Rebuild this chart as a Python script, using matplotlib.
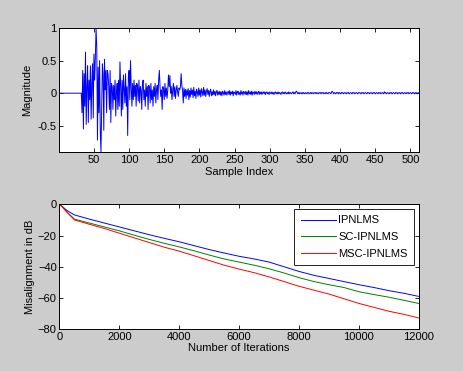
import numpy as np
import matplotlib.pyplot as plt

plt.rcParams['font.family'] = ['Liberation Sans', 'DejaVu Sans']
plt.rcParams['font.size'] = 8

# respuesta al impulso (muestras 1..512)
h_zeros = [0.0] * 32
h_early = [
    -0.30, 0.35, -0.55, 0.30, -0.20, 0.63, -0.48, 0.10, 0.42, -0.45,
    0.20, -0.10, 0.42, -0.40, 0.15, 0.45, -0.38, 0.60, 0.20, 0.55,
    1.00, 0.70, -0.72, 0.40, -0.30, 0.50, -0.60, -0.90, -0.20, 0.45,
    0.30, -0.57, 0.52, 0.05, 0.35, -0.30, 0.35, 0.30,
    0.10, -0.25, 0.35, -0.45, 0.15, 0.10, -0.25, 0.12, -0.10, 0.20,
    -0.35, 0.00, 0.15, -0.25, 0.20, -0.20, 0.48, 0.10, -0.35, 0.20,
    -0.25, 0.28, 0.05, -0.15, 0.30, -0.20, 0.10, -0.65, 0.25, 0.35,
    -0.10, 0.50, 0.10, -0.20, 0.15, -0.10, 0.20, -0.05, 0.12, -0.20,
]
h_mid = [
    0.15, 0.08, -0.12, 0.20, -0.15, 0.10, 0.05, -0.25, 0.15, 0.20,
    -0.10, 0.05, -0.20, 0.15, -0.05, 0.10, -0.25, 0.12, 0.08, -0.15,
    0.15, -0.10, 0.05, -0.20, 0.10, -0.05, 0.15, -0.15, 0.05, 0.12,
    -0.10, 0.20, 0.35, 0.10, -0.05, 0.05, -0.25, 0.10, 0.05, -0.10,
    0.15, -0.05, 0.08, -0.08, 0.05, 0.28, 0.10, 0.27, 0.00, 0.10,
    -0.10, 0.05, 0.15, -0.05, 0.10, -0.08, 0.05, 0.12, 0.02, -0.05,
    0.08, 0.05, 0.10, 0.30, 0.12, 0.05, -0.15, 0.08, -0.05, 0.06,
    -0.08, 0.05, -0.03, 0.07, -0.10, 0.04, -0.06, 0.08, -0.02, 0.05,
    -0.07, 0.09, -0.04, 0.03, -0.08, 0.06, 0.02, -0.05, 0.08, -0.03,
    0.05, -0.06, 0.07, 0.02, -0.04, 0.09, -0.03, 0.05, -0.05, 0.03,
    0.07, -0.02, 0.04, -0.05, 0.03, 0.06, -0.04, 0.02, -0.03, 0.05,
    -0.02, 0.03, -0.04, 0.02, 0.04, -0.03, 0.02, -0.02, 0.03, -0.03,
]
h_tail = [
    0.02, -0.04, 0.03, 0.01, -0.03, 0.04, -0.02, 0.02, -0.03, 0.01, 0.03, -0.02, 0.04, -0.03, 0.02, -0.01, 0.03, -0.04, 0.02, 0.01,
    -0.02, 0.04, -0.03, 0.02, 0.03, -0.02, 0.01, -0.03, 0.04, -0.01, 0.02, -0.03, 0.03, 0.01, -0.02, 0.03, -0.02, 0.02, -0.03, 0.04,
    -0.01, 0.02, -0.02, 0.03, -0.03, 0.02, 0.01, -0.02, 0.03, -0.01, 0.02, -0.02, 0.01, 0.03, -0.02, 0.02, -0.01, 0.02, -0.02, 0.01,
    0.02, -0.01, 0.02, -0.02, 0.01, 0.02, -0.01, 0.01, -0.02, 0.02, 0.00, -0.01, 0.02, -0.01, 0.01, -0.02, 0.01, 0.02, -0.01, 0.01,
    -0.01, 0.02, -0.01, 0.01, 0.00, -0.02, 0.01, 0.02, -0.01, 0.01, -0.01, 0.02, 0.00, -0.01, 0.01, -0.01, 0.02, -0.01, 0.01, 0.00,
    -0.01, 0.01, 0.02, -0.01, 0.01, -0.01, 0.02, 0.03, 0.01, -0.01, 0.01, -0.01, 0.01, 0.00, -0.01, 0.01, -0.01, 0.01, 0.00, -0.01,
    0.01, 0.00, -0.01, 0.01, 0.01, -0.01, 0.00, 0.01, -0.01, 0.01, 0.00, -0.01, 0.01, 0.00, 0.01, -0.01, 0.01, 0.00, -0.01, 0.01,
    0.00, 0.01, -0.01, 0.01, 0.00, 0.01, -0.01, 0.00, 0.01, -0.01, 0.01, 0.00, -0.01, 0.01, 0.01, 0.00, -0.01, 0.02, 0.03, 0.01,
    -0.01, 0.01, 0.00, -0.01, 0.01, 0.00, 0.01, -0.01, 0.01, 0.00, -0.01, 0.01, 0.00, 0.01, -0.01, 0.00, 0.01, 0.00, -0.01, 0.01,
    0.00, 0.01, -0.01, 0.00, 0.01, 0.00, -0.01, 0.01, 0.00, 0.01, -0.01, 0.00, 0.01, 0.00, -0.01, 0.01, 0.00, 0.01, 0.00, -0.01,
    0.01, 0.00, 0.01, -0.01, 0.00, 0.01, 0.00, -0.01, 0.01, 0.00, 0.01, -0.01, 0.00, 0.01, 0.00, -0.01, 0.01, 0.00, 0.01, -0.01,
    0.00, 0.01, 0.00, -0.01, 0.01, 0.00, 0.01, -0.01, 0.00, 0.01, 0.00, -0.01, 0.02, 0.00, 0.01, -0.01, 0.00, 0.01, 0.00, -0.01,
    0.01, 0.00, 0.01, -0.01, 0.00, 0.01, 0.00, -0.01, 0.01, 0.00, 0.01, -0.01, 0.00, 0.01, 0.00, -0.01, 0.01, 0.00, 0.01, -0.01,
    0.00, 0.01, 0.00, -0.01, 0.01, 0.00, 0.01, -0.01, 0.00, 0.01, 0.00, -0.01, 0.01, 0.00, 0.01, -0.01, 0.00, 0.01, 0.00, -0.01,
    0.01, 0.00,
]
h = np.array(h_zeros + h_early + h_mid + h_tail)
n = np.arange(1, len(h) + 1)

# curvas de desalineamiento
iters = [0, 100, 250, 500, 1000, 1500, 2000, 2500, 3000, 3500, 4000, 4500,
         5000, 5500, 6000, 6500, 7000, 7500, 8000, 8500, 9000, 9500, 10000,
         10500, 11000, 11500, 12000]
ipnlms = [0, -1.5, -4, -6.8, -9.5, -12, -14.5, -17, -19.5, -21.8, -24, -26.5,
          -29, -31.2, -33.3, -35, -37, -40, -43, -45.5, -47.5, -49.5, -51.5,
          -53.3, -55.3, -57, -59]
sc_ipnlms = [0, -1.8, -5, -9.5, -12, -14.5, -17, -19.8, -22.5, -25, -27.3, -29.8,
             -32.5, -35, -37, -39, -41.3, -44, -47, -49.5, -51.5, -53.3, -56,
             -57.8, -59.5, -61.5, -63.5]
msc_ipnlms = [0, -1.8, -5, -10, -12.8, -15.5, -18.5, -21.5, -24.5, -27.5, -30, -33,
              -36, -39, -41.5, -43.8, -46.5, -49.5, -52.5, -55, -57.5, -60.5, -63.5,
              -66, -68.5, -70.5, -72.8]

fig = plt.figure(figsize=(4.63, 3.71), dpi=100, facecolor='#cccccc')

ax1 = fig.add_axes([0.1285, 0.589, 0.776, 0.3355])
ax1.plot(n, h, color='#0000ff', lw=0.7)
ax1.set_xlim(1, 512)
ax1.set_ylim(-0.91, 1)
ax1.set_xticks(range(50, 501, 50))
ax1.set_yticks([-0.5, 0, 0.5, 1])
ax1.set_yticklabels(['-0.5', '0', '0.5', '1'])
ax1.set_xlabel('Sample Index', labelpad=1)
ax1.set_ylabel('Magnitude', labelpad=4)

ax2 = fig.add_axes([0.1285, 0.1127, 0.776, 0.3366])
ax2.plot(iters, ipnlms, color='#0000ff', lw=0.7, label='IPNLMS')
ax2.plot(iters, sc_ipnlms, color='#008000', lw=0.7, label='SC-IPNLMS')
ax2.plot(iters, msc_ipnlms, color='#ff0000', lw=0.7, label='MSC-IPNLMS')
ax2.set_xlim(0, 12000)
ax2.set_ylim(-80, 0)
ax2.set_xticks(range(0, 12001, 2000))
ax2.set_yticks(range(-80, 1, 20))
ax2.set_xlabel('Number of Iterations', labelpad=1)
ax2.set_ylabel('Misalignment in dB', labelpad=2)
leg = ax2.legend(loc='upper right', fancybox=False, edgecolor='black',
                 handlelength=3.2, labelspacing=0.6, borderaxespad=0.4,
                 handletextpad=0.2, borderpad=0.6, framealpha=1)
leg.get_frame().set_linewidth(0.6)

for ax in (ax1, ax2):
    ax.tick_params(direction='in', top=True, right=True, length=3, width=0.6, pad=2)
    for s in ax.spines.values():
        s.set_linewidth(0.7)

plt.savefig('out.png', dpi=100, facecolor=fig.get_facecolor())
